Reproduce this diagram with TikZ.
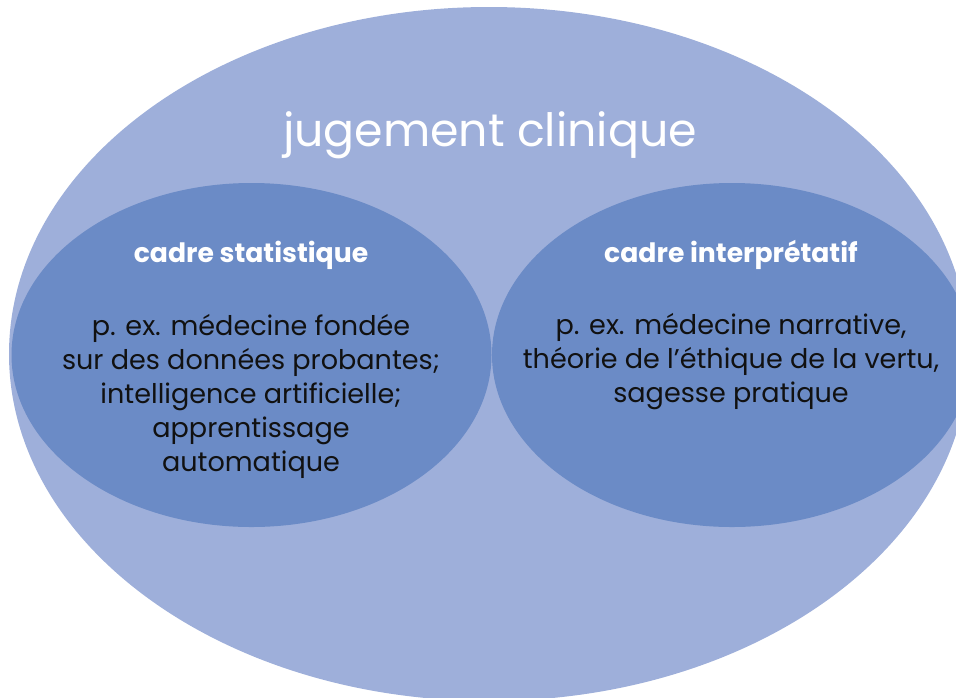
\documentclass[tikz,border=0pt]{standalone}
\usepackage{fontspec}
\setmainfont{Poppins}
\definecolor{outerblue}{HTML}{9EAFDA}
\definecolor{innerblue}{HTML}{6B8BC6}
\definecolor{bodytext}{HTML}{111111}
\tikzset{
  outerfill/.style={fill=outerblue},
  innerfill/.style={fill=innerblue},
  titletext/.style={text=white, font=\fontsize{34.4}{41}\selectfont, inner sep=0pt},
  headtext/.style={text=white, font=\bfseries\fontsize{20}{24}\selectfont, inner sep=0pt},
  bodytextstyle/.style={text=bodytext, align=center, font=\fontsize{20.3}{25.5}\selectfont, inner sep=0pt}
}
\begin{document}
\begin{tikzpicture}[x=0.75pt,y=-0.75pt]
  \useasboundingbox (0,0) rectangle (956,697);
  \clip (0,0) rectangle (956,697);
  % outer ellipse
  \fill[outerfill] (489,354) ellipse [x radius=480, y radius=347];
  % inner ellipses
  \fill[innerfill] (251.5,355) ellipse [x radius=240, y radius=172];
  \fill[innerfill] (732,355) ellipse [x radius=240, y radius=172];
  % texts
  \node[titletext] (title) at (490,135) {jugement clinique};
  \node[headtext] (headL) at (251,255) {cadre statistique};
  \node[headtext] (headR) at (731,255) {cadre interprétatif};
  \node[bodytextstyle] (bodyL) at (251,396) {p. ex. médecine fondée\\sur des données probantes;\\intelligence artificielle;\\apprentissage\\automatique};
  \node[bodytextstyle] (bodyR) at (731,362) {p. ex. médecine narrative,\\théorie de l’éthique de la vertu,\\sagesse pratique};
\end{tikzpicture}
\end{document}
